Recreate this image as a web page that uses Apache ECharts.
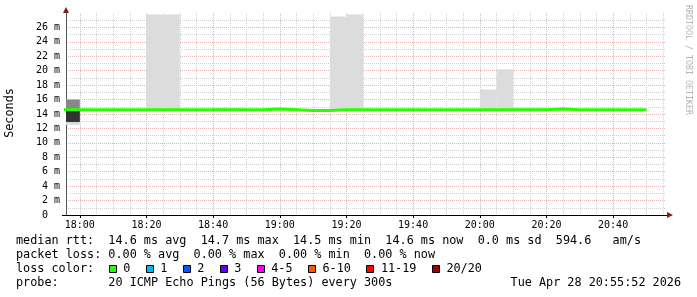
<!DOCTYPE html>
<html><head><meta charset="utf-8">
<script src="https://cdn.jsdelivr.net/npm/echarts@6/dist/echarts.min.js"></script>
<style>html,body{margin:0;padding:0;background:#fff}#c{width:697px;height:297px}</style>
</head><body><div id="c"></div>
<script>
// ---- data ----
const axisStartTime = '17:55:52';
const axisEndTime = '20:55:52';
const binStarts = ['17:55','18:00','18:05','18:10','18:15','18:20','18:25','18:30','18:35','18:40','18:45','18:50','18:55',
  '19:00','19:05','19:10','19:15','19:20','19:25','19:30','19:35','19:40','19:45','19:50','19:55',
  '20:00','20:05','20:10','20:15','20:20','20:25','20:30','20:35','20:40','20:45'];
const lastBinEnd = '20:50';
const binMinutes = 5;
const medianRtt = [14.6,14.6,14.6,14.6,14.6,14.6,14.6,14.6,14.6,14.6,14.6,14.6,14.7,
  14.6,14.5,14.5,14.6,14.6,14.6,14.6,14.6,14.6,14.6,14.6,14.6,
  14.6,14.6,14.6,14.6,14.7,14.6,14.6,14.6,14.6,14.6];
// smoke (spread of the 20 pings): light outer band
const smokeOuterLo = [12.5,null,null,null,null,14.5,14.5,null,null,14.5,14.5,null,null,
  14.5,null,null,14.5,14.5,null,null,null,null,null,null,null,
  14.5,14.5,14.5,14.5,null,null,null,null,null,null];
const smokeOuterHi = [16.0,null,null,null,null,27.8,27.8,null,null,14.85,14.85,null,null,
  14.8,null,null,27.5,27.8,null,null,null,null,null,null,null,
  17.4,20.2,14.9,14.9,null,null,null,null,null,null];
// medium band
const smokeMidLo = [12.9]; const smokeMidHi = [16.0];
// dense inner band
const smokeInnerLo = [12.9]; const smokeInnerHi = [14.6];
const xTickLabels = ['18:00','18:20','18:40','19:00','19:20','19:40','20:00','20:20','20:40'];
const xMinorTicks = ['18:05','18:10','18:15','18:25','18:30','18:35','18:45','18:50','18:55','19:05','19:10','19:15',
  '19:25','19:30','19:35','19:45','19:50','19:55','20:05','20:10','20:15','20:25','20:30','20:35','20:45','20:50','20:55'];
const yMax = 28;
const yStep = 2;
const yUnit = ' m';
const yTitle = 'Seconds';
const statLines = [
  'median rtt:  14.6 ms avg  14.7 ms max  14.5 ms min  14.6 ms now  0.0 ms sd  594.6   am/s',
  'packet loss: 0.00 % avg  0.00 % max  0.00 % min  0.00 % now'
];
const lossTitle = 'loss color:';
const lossLabels = ['0','1','2','3','4-5','6-10','11-19','20/20'];
const lossColors = ['#26ff00','#00b8ff','#0059ff','#5e00ff','#ff00ff','#ff5500','#ff0000','#a00000'];
const probeLine = 'probe:       20 ICMP Echo Pings (56 Bytes) every 300s';
const dateText = 'Tue Apr 28 20:55:52 2026';
const watermark = 'RRDTOOL / TOBI OETIKER';

// ---- helpers ----
function toMin(s){ const p = s.split(':').map(Number); return p[0]*60 + p[1] + (p[2]||0)/60; }
function fmt(v){ const h = Math.floor(v/60), m = Math.round(v - h*60); return String(h).padStart(2,'0')+':'+String(m).padStart(2,'0'); }
const xMin = toMin(axisStartTime), xMax = toMin(axisEndTime);
const FONT = '"DejaVu Sans Mono", monospace';
const TFONT = '11.8px ' + FONT;
const CW = 7.12; // monospace advance at 11.8px

function smokeSeries(lo, hi, color, z){
  const data = [];
  binStarts.forEach((t,i)=>{ if (lo[i]!=null && hi[i]!=null) data.push([toMin(t), lo[i], hi[i]]); });
  return {
    type:'custom', xAxisIndex:0, yAxisIndex:0, data, silent:true, clip:true, z,
    encode:{x:0, y:[1,2]},
    renderItem(params, api){
      const t = api.value(0);
      const p1 = api.coord([t, api.value(2)]);
      const p2 = api.coord([t + binMinutes, api.value(1)]);
      const cs = params.coordSys;
      const r = echarts.graphic.clipRectByRect(
        {x:p1[0], y:p1[1], width:p2[0]-p1[0], height:p2[1]-p1[1]},
        {x:cs.x, y:cs.y, width:cs.width, height:cs.height});
      return r && {type:'rect', shape:r, style:{fill:color}};
    }
  };
}

const medianData = binStarts.map((t,i)=>[toMin(t), medianRtt[i]]);
medianData.push([toMin(lastBinEnd), medianRtt[medianRtt.length-1]]);

// loss color legend as graphic boxes + labels
const legendEls = [{type:'text', x:16, y:269, style:{text:lossTitle, font:TFONT, fill:'#000', verticalAlign:'middle'}}];
let lx = 16 + 13*CW;
lossLabels.forEach((l,i)=>{
  legendEls.push({type:'rect', shape:{x:Math.round(lx)+0.5, y:265.5, width:7, height:7},
    style:{fill:lossColors[i], stroke:'#000', lineWidth:1}});
  legendEls.push({type:'text', x:lx + 14.6, y:269, style:{text:l, font:TFONT, fill:'#000', verticalAlign:'middle'}});
  lx = lx + 14.6 + l.length*CW + 15.3;
});

const chart = echarts.init(document.getElementById('c'), null, {renderer:'canvas'});
const gridDash = [1,1];
const majorGrid = '#e6b2b2', minorGrid = '#d2d2d2';
chart.setOption({
  backgroundColor:'#fff',
  animation:false,
  grid:{left:66, right:31, top:13, bottom:82, containLabel:false},
  xAxis:[{
    type:'value', min:xMin, max:xMax, position:'bottom',
    axisLine:{show:true, lineStyle:{color:'#000', width:1}},
    axisTick:{show:true, length:3, lineStyle:{color:'#000'}, customValues:xTickLabels.map(toMin)},
    axisLabel:{show:true, customValues:xTickLabels.map(toMin), formatter:v=>fmt(v), color:'#000',
      fontFamily:FONT, fontSize:10, margin:5},
    splitLine:{show:true, lineStyle:{color:majorGrid, type:gridDash, width:1}}
  },{
    type:'value', min:xMin, max:xMax, position:'bottom',
    axisLine:{show:false}, axisLabel:{show:false},
    axisTick:{show:false, customValues:xMinorTicks.map(toMin)},
    splitLine:{show:true, lineStyle:{color:minorGrid, type:gridDash, width:1}}
  }],
  yAxis:{
    type:'value', min:0, max:yMax, interval:yStep,
    axisLine:{show:true, lineStyle:{color:'#555', width:1}},
    axisTick:{show:false},
    minorTick:{show:false, splitNumber:2},
    axisLabel:{show:true, color:'#000', fontFamily:FONT, fontSize:10, margin:6, showMaxLabel:false,
      formatter:v=> v===0 ? '0  ' : v + yUnit},
    splitLine:{show:true, showMaxLine:false, lineStyle:{color:majorGrid, type:gridDash, width:1}},
    minorSplitLine:{show:true, lineStyle:{color:minorGrid, type:gridDash, width:1}}
  },
  series:[
    smokeSeries(smokeOuterLo, smokeOuterHi, '#dcdcdc', 2),
    smokeSeries(smokeMidLo, smokeMidHi, '#888888', 3),
    smokeSeries(smokeInnerLo, smokeInnerHi, '#333333', 4),
    {type:'line', xAxisIndex:0, yAxisIndex:0, data:medianData, step:'end', symbol:'none', z:5,
      lineStyle:{color:'#26ff00', width:3}, clip:true, silent:true}
  ],
  graphic:[
    {type:'text', x:10, y:113, rotation:Math.PI/2, style:{text:yTitle, font:TFONT, fill:'#000', align:'center', verticalAlign:'middle'}},
    {type:'text', x:688, y:60, rotation:-Math.PI/2, style:{text:watermark, font:'8.3px '+FONT, fill:'#b4b4b4', align:'center', verticalAlign:'middle'}},
    {type:'polygon', shape:{points:[[63,13],[69,13],[66,7]]}, style:{fill:'#8b1a1a'}},
    {type:'polygon', shape:{points:[[667,212],[667,218],[673,215]]}, style:{fill:'#8b1a1a'}},
    {type:'line', shape:{x1:62, y1:215.5, x2:667, y2:215.5}, style:{stroke:'#000', lineWidth:1}},
    {type:'text', x:16, y:241, style:{text:statLines[0], font:TFONT, fill:'#000', verticalAlign:'middle'}},
    {type:'text', x:16, y:255, style:{text:statLines[1], font:TFONT, fill:'#000', verticalAlign:'middle'}},
    ...legendEls,
    {type:'text', x:16, y:283, style:{text:probeLine, font:TFONT, fill:'#000', verticalAlign:'middle'}},
    {type:'text', x:681, y:283, style:{text:dateText, font:TFONT, fill:'#000', align:'right', verticalAlign:'middle'}}
  ]
});
</script></body></html>
